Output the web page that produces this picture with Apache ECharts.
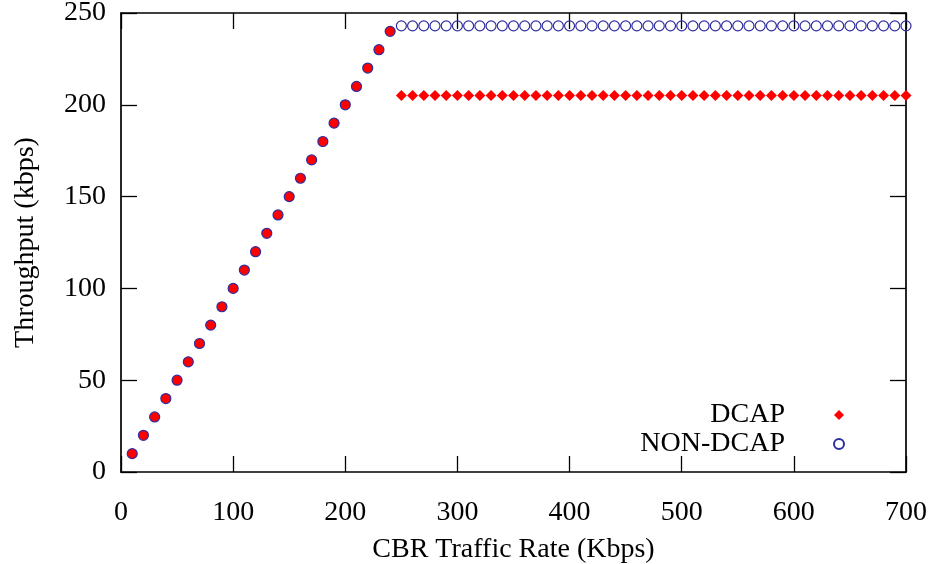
<!DOCTYPE html>
<html>
<head>
<meta charset="utf-8">
<script src="https://cdn.jsdelivr.net/npm/echarts@6/dist/echarts.min.js"></script>
<style>html,body{margin:0;padding:0;background:#fff}#c{width:932px;height:564px}</style>
</head>
<body>
<div id="c"></div>
<script>
var rates = [10,20,30,40,50,60,70,80,90,100,110,120,130,140,150,160,170,180,190,200,210,220,230,240,
  250,260,270,280,290,300,310,320,330,340,350,360,370,380,390,400,410,420,430,440,450,460,470,480,490,500,
  510,520,530,540,550,560,570,580,590,600,610,620,630,640,650,660,670,680,690,700];
var dcap = [10,20,30,40,50,60,70,80,90,100,110,120,130,140,150,160,170,180,190,200,210,220,230,240,
  205,205,205,205,205,205,205,205,205,205,205,205,205,205,205,205,205,205,205,205,205,205,205,205,205,205,
  205,205,205,205,205,205,205,205,205,205,205,205,205,205,205,205,205,205,205,205];
var nonDcap = [10,20,30,40,50,60,70,80,90,100,110,120,130,140,150,160,170,180,190,200,210,220,230,240,
  243,243,243,243,243,243,243,243,243,243,243,243,243,243,243,243,243,243,243,243,243,243,243,243,243,243,
  243,243,243,243,243,243,243,243,243,243,243,243,243,243,243,243,243,243,243,243];
var xTicks = [0,100,200,300,400,500,600,700];
var yTicks = [0,50,100,150,200,250];
var seriesNames = ['DCAP','NON-DCAP'];

var FONT = 'Liberation Serif';
var RED = '#ff0000', BLUE = '#2e2ea0';

function pairs(ys, rampSymbol) {
  return rates.map(function (x, i) {
    var d = { value: [x, ys[i]] };
    if (rampSymbol && ys[i] === x) { d.symbol = rampSymbol; d.symbolSize = 10; }
    return d;
  });
}

var chart = echarts.init(document.getElementById('c'), null, { renderer: 'canvas' });
var tickCommon = { show: true, inside: true, length: 16, lineStyle: { color: '#000', width: 1.3 } };
var lineCommon = { show: true, onZero: false, lineStyle: { color: '#000', width: 1.7 } };
chart.setOption({
  animation: false,
  backgroundColor: '#fff',
  grid: { left: 121, right: 26, top: 13, bottom: 92, containLabel: false, outerBoundsMode: 'none' },
  xAxis: [{
    type: 'value', min: xTicks[0], max: xTicks[xTicks.length - 1], interval: 100, position: 'bottom',
    name: 'CBR Traffic Rate (Kbps)', nameLocation: 'middle', nameGap: 64,
    nameTextStyle: { fontFamily: FONT, fontSize: 28, color: '#000' },
    axisLine: lineCommon, axisTick: tickCommon, splitLine: { show: false },
    axisLabel: { fontFamily: FONT, fontSize: 28, color: '#000', margin: 27 }
  }, {
    type: 'value', min: xTicks[0], max: xTicks[xTicks.length - 1], interval: 100, position: 'top',
    axisLine: lineCommon, axisTick: tickCommon, splitLine: { show: false }, axisLabel: { show: false }
  }],
  yAxis: [{
    type: 'value', min: yTicks[0], max: yTicks[yTicks.length - 1], interval: 50, position: 'left',
    name: 'Throughput (kbps)', nameLocation: 'middle', nameGap: 81, nameRotate: 90,
    nameTextStyle: { fontFamily: FONT, fontSize: 28, color: '#000' },
    axisLine: lineCommon, axisTick: tickCommon, splitLine: { show: false },
    axisLabel: { fontFamily: FONT, fontSize: 28, color: '#000', margin: 15, padding: [10, 0, 0, 0] }
  }, {
    type: 'value', min: yTicks[0], max: yTicks[yTicks.length - 1], interval: 50, position: 'right',
    axisLine: lineCommon, axisTick: tickCommon, splitLine: { show: false }, axisLabel: { show: false }
  }],
  legend: {
    show: true, orient: 'vertical', align: 'right', right: 82, top: 396,
    itemWidth: 10, itemHeight: 10, itemGap: 1,
    data: [{ name: seriesNames[0], icon: 'diamond' }, { name: seriesNames[1], icon: 'circle' }],
    textStyle: { fontFamily: FONT, fontSize: 28, color: '#000', padding: [0, 44, 0, 0] }
  },
  series: [{
    name: seriesNames[0], type: 'scatter', symbol: 'diamond', symbolSize: 11,
    itemStyle: { color: RED, opacity: 1 },
    data: pairs(dcap, 'circle'), z: 2
  }, {
    name: seriesNames[1], type: 'scatter', symbol: 'circle', symbolSize: 10,
    itemStyle: { color: 'rgba(0,0,0,0)', borderColor: BLUE, borderWidth: 1.2, opacity: 1 },
    data: pairs(nonDcap, null), z: 3
  }]
});
</script>
</body>
</html>
